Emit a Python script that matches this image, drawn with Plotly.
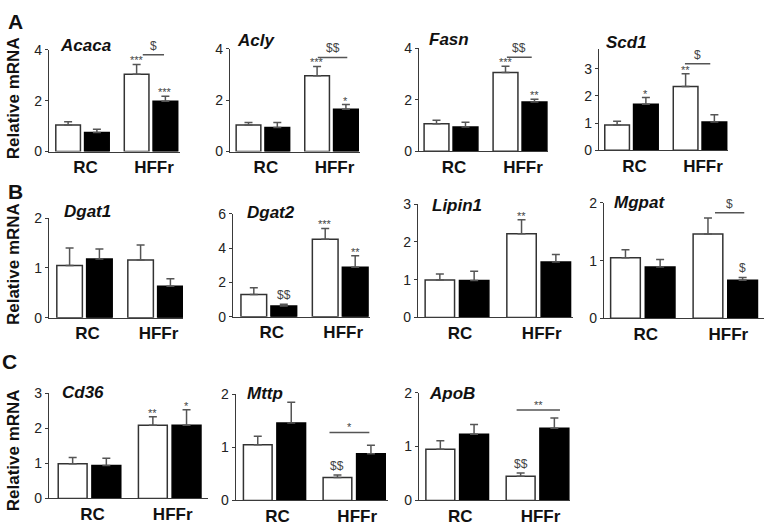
import plotly.graph_objects as go

W, H = 765, 531

genes = ["Acaca", "Acly", "Fasn", "Scd1", "Dgat1", "Dgat2", "Lipin1", "Mgpat", "Cd36", "Mttp", "ApoB"]
groups = ["RC", "HFFr"]

white_rc = [1.04, 1.03, 1.07, 0.93, 1.05, 1.29, 0.99, 1.05, 0.99, 1.05, 0.95]
white_rc_err = [0.13, 0.10, 0.14, 0.14, 0.35, 0.40, 0.16, 0.14, 0.18, 0.16, 0.16]
black_rc = [0.75, 0.94, 0.94, 1.70, 1.18, 0.63, 0.98, 0.89, 0.94, 1.46, 1.23]
black_rc_err = [0.13, 0.19, 0.19, 0.24, 0.20, 0.10, 0.24, 0.13, 0.21, 0.39, 0.18]
white_hffr = [3.04, 2.95, 3.06, 2.35, 1.16, 4.52, 2.22, 1.46, 2.09, 0.43, 0.45]
white_hffr_err = [0.38, 0.36, 0.25, 0.47, 0.30, 0.63, 0.37, 0.28, 0.24, 0.05, 0.06]
black_hffr = [1.98, 1.65, 1.92, 1.04, 0.63, 2.88, 1.47, 0.66, 2.09, 0.88, 1.34]
black_hffr_err = [0.19, 0.18, 0.10, 0.27, 0.15, 0.68, 0.20, 0.05, 0.44, 0.16, 0.19]

y_max = [4, 4, 4, 3.73, 2, 6, 3, 2, 3, 2, 2]
y_dtick = [2, 2, 2, 1, 1, 2, 1, 1, 1, 1, 1]

D = "&#36;"
# significance marks over bars: (bar index 0=white RC,1=black RC,2=white HFFr,3=black HFFr, text)
sig_marks = [
    [(2, "***"), (3, "***")],
    [(2, "***"), (3, "*")],
    [(2, "***"), (3, "**")],
    [(1, "*"), (2, "**")],
    [],
    [(1, D + D), (2, "***"), (3, "**")],
    [(2, "**")],
    [(3, D)],
    [(2, "**"), (3, "*")],
    [(2, D + D)],
    [(2, D + D)],
]
# comparison brackets: (x0, x1, y, text) or None
brackets = [
    (0.88, 1.19, 3.80, D),
    (0.80, 1.23, 3.66, D + D),
    (0.81, 1.17, 3.66, D + D),
    (0.78, 1.15, 3.19, D),
    None,
    None,
    None,
    (0.875, 1.23, 1.83, D),
    None,
    (0.69, 1.19, 1.28, "*"),
    (0.74, 1.28, 1.68, "**"),
]

# panel frames in pixels: (axis left, axis right, RC centre, HFFr centre, top, bottom)
frames = [
    (49, 180, 82.5, 151, 43, 148),
    (230, 360, 262.9, 331.5, 42, 148),
    (419, 548, 451, 520, 41.7, 147.7),
    (599, 728, 631.5, 700, 42.3, 146.7),
    (49, 183, 84.5, 155.5, 216.7, 319.3),
    (233, 370, 268.8, 340.2, 212.3, 318.3),
    (418, 573, 457, 538.7, 202.3, 319),
    (604, 764, 642.8, 725.3, 201, 320),
    (49, 208, 89.5, 169.7, 397.3, 505.7),
    (235.7, 388, 274.5, 354.2, 398.3, 507.7),
    (419, 570, 457.2, 537.5, 396.7, 507.7),
]
gene_pos = [(58, 39), (235, 34), (427, 32), (604, 36), (62, 210), (245, 211),
            (430, 204), (612, 201), (60, 396), (245, 397), (427, 397)]

FONT = "Liberation Sans, Arial, Helvetica, sans-serif"
AX = "#3a3a3a"
ERR = "#555555"
BW, GW = 0.36, 0.78

def px(x):
    return x / W

def py(y):
    return 1 - y / H

fig = go.Figure()
annotations = []
shapes = []

for i, g in enumerate(genes):
    n = i + 1
    xa, ya = f"x{n}", f"y{n}"
    fig.add_trace(go.Bar(
        x=groups, y=[white_rc[i], white_hffr[i]], xaxis=xa, yaxis=ya,
        width=BW, offset=-GW / 2,
        marker=dict(color="white", line=dict(color="#333333", width=1.5)),
        error_y=dict(type="data", symmetric=False, array=[white_rc_err[i], white_hffr_err[i]],
                     arrayminus=[0, 0], color=ERR, thickness=1.5, width=4),
        showlegend=False, hoverinfo="skip"))
    fig.add_trace(go.Bar(
        x=groups, y=[black_rc[i], black_hffr[i]], xaxis=xa, yaxis=ya,
        width=BW, offset=GW / 2 - BW,
        marker=dict(color="black", line=dict(color="black", width=1.5)),
        error_y=dict(type="data", symmetric=False, array=[black_rc_err[i], black_hffr_err[i]],
                     arrayminus=[0, 0], color=ERR, thickness=1.5, width=4),
        showlegend=False, hoverinfo="skip"))

    left, right, c0, c1, top, bot = frames[i]
    s = c1 - c0
    r0 = (left - c0) / s
    r1 = 1 + (right - c1) / s
    ticks = []
    t = 0
    while t <= y_max[i] + 1e-9:
        ticks.append(t)
        t += y_dtick[i]
    suffix = "" if n == 1 else str(n)
    fig.update_layout(**{
        f"xaxis{suffix}": dict(domain=[px(left), px(right)], anchor=ya, type="category",
                               categoryorder="array", categoryarray=groups,
                               range=[r0, r1], showline=True, linecolor=AX, linewidth=1.3,
                               ticks="", showgrid=False, zeroline=False, ticklabelshift=3,
                               tickfont=dict(family=FONT, size=17, color="#111", weight="bold")),
        f"yaxis{suffix}": dict(domain=[py(bot), py(top)], anchor=xa, range=[0, y_max[i]],
                               tickvals=ticks, ticktext=[f"{v:g}" for v in ticks],
                               showline=True, linecolor=AX, linewidth=1.3,
                               ticks="outside", ticklen=3, tickcolor=AX, tickwidth=1.2,
                               showgrid=False, zeroline=False,
                               tickfont=dict(family=FONT, size=14, color="#222")),
    })

    gx, gy = gene_pos[i]
    annotations.append(dict(x=px(gx), y=py(gy), xref="paper", yref="paper", text=g,
                            showarrow=False, xanchor="left", yanchor="middle",
                            font=dict(family=FONT, size=17, color="#111", weight="bold", style="italic")))

    tops = [white_rc[i] + white_rc_err[i], black_rc[i] + black_rc_err[i],
            white_hffr[i] + white_hffr_err[i], black_hffr[i] + black_hffr_err[i]]
    xc = [-0.21, 0.21, 0.79, 1.21]
    for bi, txt in sig_marks[i]:
        star = "*" in txt
        annotations.append(dict(x=xc[bi], y=tops[bi], xref=xa, yref=ya, text=txt,
                                showarrow=False, xanchor="center", yanchor="bottom",
                                yshift=-4 if star else 0,
                                font=dict(family=FONT, size=11 if star else 12, color="#444")))
    br = brackets[i]
    if br:
        x0, x1, yb, txt = br
        shapes.append(dict(type="line", xref=xa, yref=ya, x0=x0, x1=x1, y0=yb, y1=yb,
                           line=dict(color="#555", width=1.5)))
        star = "*" in txt
        annotations.append(dict(x=(x0 + x1) / 2, y=yb, xref=xa, yref=ya, text=txt,
                                showarrow=False, xanchor="center", yanchor="bottom",
                                yshift=-3 if star else 0,
                                font=dict(family=FONT, size=11 if star else 12, color="#444")))

# panel letters and y titles
for letter, (lx, ly) in zip(["A", "B", "C"], [(15, 14), (16, 189), (9, 364)]):
    annotations.append(dict(x=px(lx), y=py(ly), xref="paper", yref="paper", text=letter,
                            showarrow=False, xanchor="center", yanchor="middle",
                            font=dict(family=FONT, size=21, color="#111", weight="bold")))
for cy in [93, 264, 456]:
    annotations.append(dict(x=px(13), y=py(cy), xref="paper", yref="paper", text="Relative mRNA",
                            showarrow=False, xanchor="center", yanchor="middle", textangle=-90,
                            font=dict(family=FONT, size=17, color="#111", weight="bold")))

fig.update_layout(width=W, height=H, autosize=False, margin=dict(l=0, r=0, t=0, b=0),
                  plot_bgcolor="white", paper_bgcolor="white", barmode="overlay",
                  showlegend=False, annotations=annotations, shapes=shapes,
                  font=dict(family=FONT))

pin = ("document.body.style.margin='0px';document.body.style.overflow='hidden';"
       "var gd=document.getElementById('{plot_id}');"
       "gd.style.position='fixed';gd.style.left='0px';gd.style.top='0px';")
fig.write_html("out.html", post_script=pin, config={"responsive": False, "displayModeBar": False})
